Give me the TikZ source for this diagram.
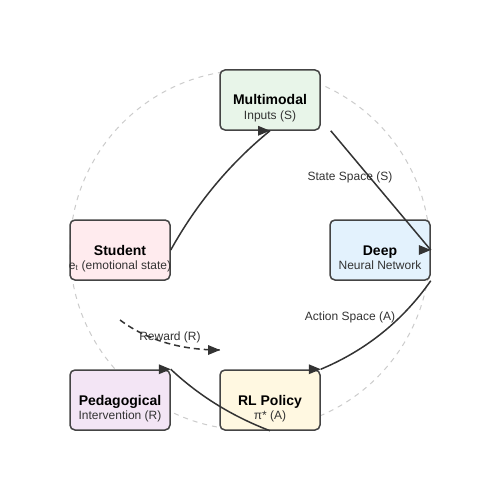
\documentclass[tikz,border=0pt]{standalone}
\usepackage{fontspec}
\setmainfont{Liberation Sans}
\definecolor{ink}{HTML}{333333}
\definecolor{edge}{HTML}{444444}
\definecolor{ringc}{HTML}{CCCCCC}
\definecolor{fgreen}{HTML}{E8F5E9}
\definecolor{fblue}{HTML}{E3F2FD}
\definecolor{fyellow}{HTML}{FFF8E1}
\definecolor{fpurple}{HTML}{F3E5F5}
\definecolor{fpink}{HTML}{FFEBEE}
\newcommand\righttip[1]{\fill[ink] (#1) -- ++(-12,-5) -- ++(0,10) -- cycle;}
\begin{document}
\begin{tikzpicture}[x=1pt,y=-1pt,
  boxnode/.style={draw=edge, line width=1.5pt, rounded corners=5pt, minimum width=100pt, minimum height=60pt, inner sep=0pt},
  ttl/.style={font=\fontsize{14pt}{16pt}\selectfont\bfseries, text=black, anchor=base, inner sep=0pt},
  subt/.style={font=\fontsize{12pt}{14pt}\selectfont, text=ink, anchor=base, inner sep=0pt},
  lbl/.style={font=\fontsize{12pt}{14pt}\selectfont, text=ink, anchor=base, inner sep=0pt},
  conn/.style={draw=ink, line width=1.5pt},
  ring/.style={draw=ringc, line width=1pt, dash pattern=on 5pt off 5pt}]
\useasboundingbox (0,0) rectangle (500,500);
\fill[white] (0,0) rectangle (500,500);
\draw[ring] (250,250) circle[radius=180pt];

\node[boxnode, fill=fgreen] (mm) at (270,100) {};
\node[boxnode, fill=fblue] (dnn) at (380,250) {};
\node[boxnode, fill=fyellow] (rl) at (270,400) {};
\node[boxnode, fill=fpurple] (ped) at (120,400) {};
\node[boxnode, fill=fpink] (st) at (120,250) {};

\node[ttl] (mmT) at (270,105) {Multimodal};
\node[subt] (mmS) at (270,119) {Inputs (S)};
\node[ttl] (dnnT) at (380,255) {Deep};
\node[subt] (dnnS) at (380,269) {Neural Network};
\node[ttl] (rlT) at (270,405) {RL Policy};
\node[subt] (rlS) at (270,419) {π* (A)};
\node[ttl] (pedT) at (120,405) {Pedagogical};
\node[subt] (pedS) at (120,419) {Intervention (R)};
\node[ttl] (stT) at (120,255) {Student};
\node[subt] (stS) at (120,269) {e\textsubscript{t} (emotional state)};

\coordinate (mmOut) at ([xshift=10pt]mm.south east);
\coordinate (rwA) at (120,320);
\coordinate (rwB) at (220,350);

\draw[conn] (st.east) .. controls (196.7,203.3) and (230,163.3) .. (mm.south);
\righttip{mm.south}
\draw[conn] (mmOut) -- (dnn.east);
\righttip{dnn.east}
\draw[conn] (dnn.south east) .. controls (403.3,320) and (366.7,350) .. (rl.north east);
\righttip{rl.north east}
\draw[conn] (rl.south) .. controls (233.3,416.7) and (200,396.7) .. (ped.north east);
\righttip{ped.north east}
\draw[conn, dash pattern=on 6pt off 4pt] (rwA) .. controls (146.7,340) and (180,350) .. (rwB);
\righttip{rwB}

\node[lbl] (lS) at (350,180) {State Space (S)};
\node[lbl] (lA) at (350,320) {Action Space (A)};
\node[lbl] (lR) at (170,340) {Reward (R)};
\end{tikzpicture}
\end{document}
